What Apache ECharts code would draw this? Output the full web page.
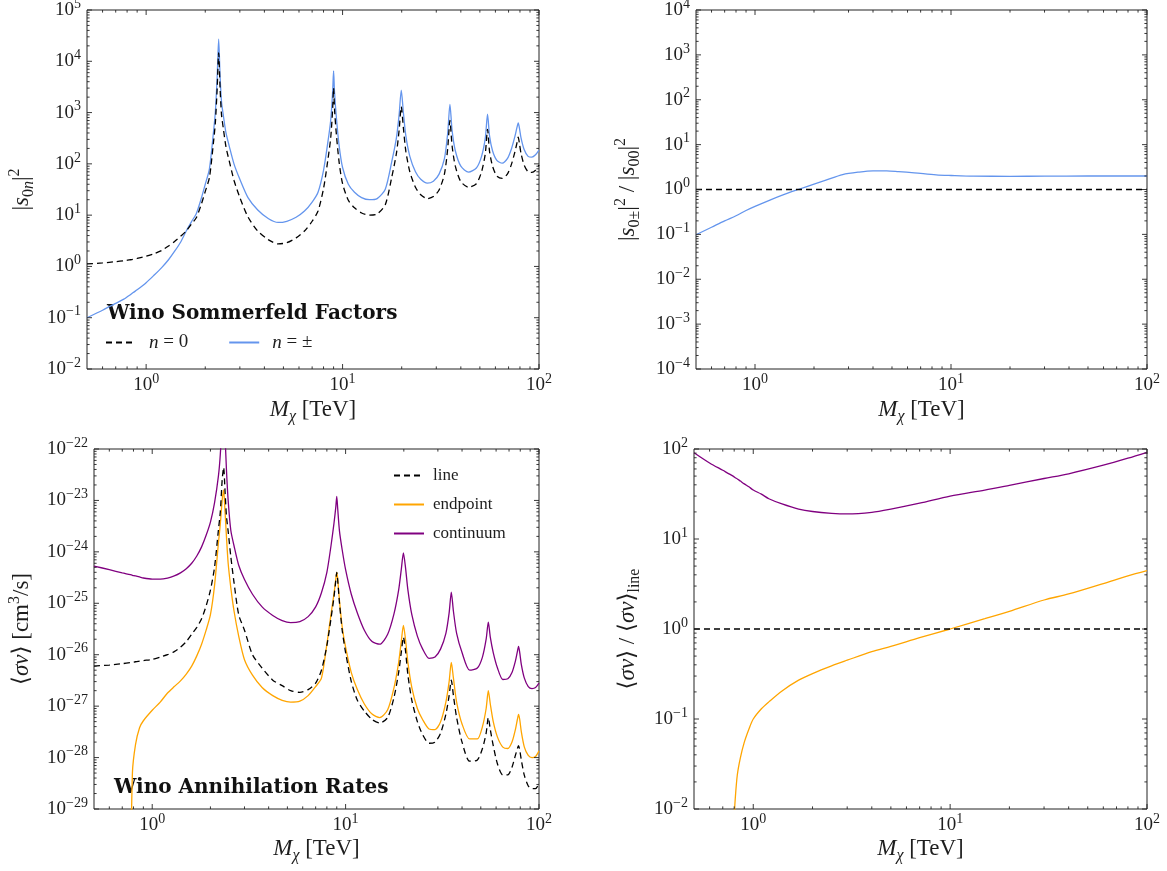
<!DOCTYPE html>
<html><head><meta charset="utf-8">
<script src="https://cdn.jsdelivr.net/npm/echarts@6/dist/echarts.min.js"></script>
<style>html,body{margin:0;padding:0;background:#fff}#c{width:1167px;height:871px}</style>
</head><body><div id="c"></div>
<script>
// ---------------- DATA ----------------
// Dark-matter mass grid (TeV) shared by the Sommerfeld factors and annihilation rates panels
const mass = [0.5,0.6,0.7,0.77,0.79,0.82,0.86,0.9,
  1.0,1.1,1.2,1.3,1.4,1.5,1.6,1.7,1.8,1.9,2.0,
  2.1,2.2,2.25,2.3,2.34,2.38,2.42,2.47,2.55,2.65,2.8,
  3.0,3.3,3.7,4.2,4.7,5.2,5.8,6.4,7.0,7.5,
  8.0,8.4,8.7,8.9,9.0,9.1,9.3,9.6,10,
  10.7,11.5,12.5,13.7,15,16.5,17.8,18.8,19.4,19.9,
  20.4,21,22,23.5,25,27,29,31,33,34.3,
  35.2,36.1,37.5,40,43.8,48,51,53.3,54.7,56,
  58,61,65,69,72.5,75.5,77.3,78.4,79.5,81,
  84,88,92,96,100];

// |s_00|^2  (n = 0)
const sfNeutral = [1.12,1.17,1.24,1.29,1.31,1.34,1.38,1.43,
  1.58,1.78,2.05,2.5,3.1,3.9,4.9,6.7,8.9,15.4,29,
  54,255,620,3000,14500,2900,900,500,214,113,48,
  22,9.2,4.9,3.3,2.75,2.9,3.6,4.9,7.6,12,
  33,113,318,1150,3000,1160,375,109,41,
  19.5,13.9,11,10,10.5,16,55,160,450,1300,
  500,175,70,35,25,21,23,31,63,200,
  700,225,90,45,35,41,70,160,470,175,
  90,58,52,63,100,175,260,330,250,160,
  95,70,68,75,95];

// |s_0±|^2  (n = ±)
const sfCharged = [0.10,0.14,0.19,0.23,0.245,0.27,0.31,0.35,
  0.48,0.68,0.95,1.35,2.0,3.0,4.9,7.4,10.7,20,40,
  80,400,1000,5000,27000,5000,1600,900,400,220,100,
  50,22,12.6,8.5,7.2,7.6,9.1,12,18,28,
  75,250,700,2500,6500,2500,800,230,85,
  40,28,22,20,21,32,110,320,900,2750,
  1000,350,140,70,50,42,46,63,126,400,
  1450,450,180,90,69,83,140,320,930,350,
  180,117,103,126,200,350,520,630,500,320,
  190,140,135,150,185];

// <sigma v> line  [cm^3/s]
const rateLine = [6.0e-27,6.3e-27,6.7e-27,7.0e-27,7.1e-27,7.3e-27,7.5e-27,7.7e-27,
  8.1e-27,9e-27,1.0e-26,1.15e-26,1.4e-26,1.8e-26,2.5e-26,3.4e-26,5e-26,8.9e-26,1.8e-25,
  5e-25,2.7e-24,6e-24,2.5e-23,4.4e-23,1.5e-23,5e-24,2.5e-24,8e-25,2.5e-25,6e-26,
  3e-26,1e-26,5.5e-27,3.2e-27,2.5e-27,2.0e-27,1.85e-27,2.1e-27,2.8e-27,5e-27,
  1.5e-26,5e-26,1.3e-25,2.8e-25,4e-25,2.8e-25,1.0e-25,3e-26,1.1e-26,
  3e-27,1.3e-27,8e-28,5.5e-28,4.7e-28,6e-28,1.5e-27,4.5e-27,1.1e-26,2.2e-26,
  1.2e-26,4e-27,1.3e-27,5e-28,2.8e-28,1.9e-28,2e-28,3e-28,7e-28,1.6e-27,
  3.2e-27,1.6e-27,6e-28,2e-28,8.5e-29,9e-29,1.5e-28,3e-28,6e-28,3.5e-28,
  1.7e-28,7.5e-29,4.6e-29,4.6e-29,6.5e-29,1.1e-28,1.5e-28,1.7e-28,1.4e-28,9e-29,
  4.5e-29,2.8e-29,2.5e-29,2.5e-29,3.1e-29];

// <sigma v> endpoint
const rateEndpoint = [null,null,null,1e-31,5e-29,1.8e-28,3.8e-28,5.2e-28,
  8.3e-28,1.2e-27,1.8e-27,2.4e-27,3.1e-27,4.2e-27,6e-27,9.5e-27,1.6e-26,3e-26,6e-26,
  2.2e-25,1.5e-24,3.5e-24,1e-23,1.6e-23,6e-24,2e-24,6e-25,2e-25,7e-26,2.3e-26,
  8e-27,4e-27,2.3e-27,1.6e-27,1.3e-27,1.2e-27,1.25e-27,1.6e-27,2.4e-27,3.5e-27,
  1.6e-26,6e-26,1.5e-25,3e-25,4e-25,3e-25,1.1e-25,3.5e-26,1.4e-26,
  4.5e-27,2.1e-27,1.1e-27,7e-28,6e-28,8.5e-28,2.3e-27,7e-27,1.8e-26,3.7e-26,
  2e-26,7e-27,2.3e-27,9e-28,5.5e-28,3.6e-28,3.5e-28,5e-28,1.2e-27,3e-27,
  7.1e-27,3.5e-27,1.2e-27,4.5e-28,2.3e-28,2.3e-28,4e-28,9e-28,2e-27,1.1e-27,
  5e-28,2.5e-28,1.6e-28,1.5e-28,2e-28,3.5e-28,5.5e-28,6.9e-28,5.5e-28,3.2e-28,
  1.6e-28,1.1e-28,1.0e-28,1.05e-28,1.35e-28];

// <sigma v> continuum
const rateContinuum = [5.3e-25,4.5e-25,3.9e-25,3.6e-25,3.5e-25,3.4e-25,3.25e-25,3.1e-25,
  2.95e-25,2.95e-25,3.1e-25,3.4e-25,3.9e-25,4.7e-25,6e-25,8.3e-25,1.25e-24,2.1e-24,3.8e-24,
  9e-24,3e-23,8e-23,4e-22,3e-21,2e-22,4e-23,1e-23,2.6e-24,1.3e-24,5.5e-25,
  2.9e-25,1.5e-25,8.5e-26,5.8e-26,4.6e-26,4.2e-26,4.4e-26,5.5e-26,8.5e-26,1.6e-25,
  4e-25,1.3e-24,3.5e-24,7.5e-24,1.2e-23,7e-24,2.5e-24,1.1e-24,4.5e-25,
  1.5e-25,6.5e-26,3e-26,1.8e-26,1.6e-26,2.5e-26,6.3e-26,1.8e-25,4.5e-25,9.5e-25,
  5e-25,1.8e-25,6e-26,2.3e-26,1.3e-26,8.5e-27,9e-27,1.3e-26,2.6e-26,6.5e-26,
  1.65e-25,7e-26,2.6e-26,1.1e-26,5e-27,5.5e-27,9e-27,2e-26,4.3e-26,2.2e-26,
  1.1e-26,5.5e-27,3.3e-27,3.4e-27,4.5e-27,7.5e-27,1.15e-26,1.45e-26,1.1e-26,6.5e-27,
  3.5e-27,2.4e-27,2.2e-27,2.3e-27,2.8e-27];

// |s_0±|^2 / |s_00|^2
const massSFRatio = [0.5,0.6,0.7,0.8,0.9,1.0,1.2,1.4,1.66,2.0,2.3,2.8,3.4,4.0,4.7,5.4,6.5,8.4,10,13,20,30,50,70,100];
const sfRatio = [0.098,0.144,0.2,0.26,0.34,0.42,0.59,0.77,1.0,1.32,1.62,2.15,2.45,2.6,2.6,2.5,2.35,2.12,2.05,1.98,1.97,1.98,2.0,2.0,2.0];

// <sigma v> / <sigma v>_line
const massRateRatio = [0.5,0.6,0.7,0.79,0.8,0.81,0.83,0.86,0.9,0.95,1.0,1.1,1.2,1.4,1.7,2.0,2.5,3.0,4.0,5.0,7.0,10,15,20,30,40,60,80,100];
const continuumRatio = [91,70,58,50,49,48,46.5,44,41,38,35,31.5,28,24.5,21.5,20.2,19.3,19,19.8,21.5,25,30,35,39.5,47,53,66,79,92];
const endpointRatio = [null,null,null,0.004,0.008,0.013,0.024,0.037,0.055,0.077,0.1,0.13,0.155,0.205,0.27,0.32,0.39,0.45,0.56,0.64,0.8,1.0,1.3,1.57,2.1,2.45,3.2,3.9,4.45];

// unity reference line
const unityMass = [0.5, 100];
const unityValue = [1, 1];

// axis ranges (tick labels are powers of ten)
const xRange = [0.5, 100];
const yRanges = [[1e-2, 1e5], [1e-4, 1e4], [1e-29, 1e-22], [1e-2, 1e2]];

// ---------------- STYLE ----------------
const FONT = 'Liberation Serif, DejaVu Serif, serif';
const TXT = '#1e1e1e';
const C_BLUE = '#6495ED', C_ORANGE = '#FFA500', C_PURPLE = '#800080', C_BLACK = '#000000';
const grids = [
  {left: 87, top: 10, width: 452, height: 359},
  {left: 696, top: 10, width: 451, height: 359},
  {left: 94, top: 449, width: 445, height: 360},
  {left: 694, top: 449, width: 453, height: 360}
];
// panels whose y tick labels are drawn by the tick series (values below 1e-20 are rounded to 0 by the log scale's label path)
const customYLabels = [false, false, true, false];

const powRich = {
  b: {fontFamily: FONT, fontSize: 19, lineHeight: 26, color: TXT},
  s: {fontFamily: FONT, fontSize: 14, lineHeight: 14, verticalAlign: 'top', color: TXT}
};
function powText(v) {
  const e = Math.log10(v), r = Math.round(e);
  if (!isFinite(e) || Math.abs(e - r) > 1e-6) return '';
  return '{b|10}{s|' + (r < 0 ? '\u2212' + (-r) : String(r)) + '}';
}
const nameRich = {
  r: {fontFamily: FONT, fontSize: 23, lineHeight: 30, color: TXT},
  i: {fontFamily: FONT, fontStyle: 'italic', fontSize: 23, lineHeight: 30, color: TXT},
  sub: {fontFamily: FONT, fontSize: 16, lineHeight: 15, verticalAlign: 'bottom', color: TXT},
  subi: {fontFamily: FONT, fontStyle: 'italic', fontSize: 16, lineHeight: 15, verticalAlign: 'bottom', color: TXT},
  sup: {fontFamily: FONT, fontSize: 16, lineHeight: 15, verticalAlign: 'top', color: TXT}
};
const xName = '{i|M}{subi|\u03c7}{r| [TeV]}';
const yNames = [
  '{r||}{i|s}{sub|0}{subi|n}{r||}{sup|2}',
  '{r||}{i|s}{sub|0\u00b1}{r||}{sup|2}{r| / |}{i|s}{sub|00}{r||}{sup|2}',
  '{r|\u27e8}{i|\u03c3v}{r|\u27e9 [cm}{sup|3}{r|/s]}',
  '{r|\u27e8}{i|\u03c3v}{r|\u27e9 / \u27e8}{i|\u03c3v}{r|\u27e9}{sub|line}'
];
const yNameGaps = [50, 53, 57, 51];
const xNameGaps = [26, 26, 25, 25];

function xAxisCfg(gi) {
  return {type: 'log', gridIndex: gi, min: xRange[0], max: xRange[1],
    axisLine: {show: false}, axisTick: {show: false}, splitLine: {show: false},
    axisLabel: {formatter: powText, margin: 3, rich: powRich, hideOverlap: false},
    name: xName, nameLocation: 'middle', nameGap: xNameGaps[gi], nameMoveOverlap: false,
    nameTextStyle: {rich: nameRich}};
}
function yAxisCfg(gi) {
  return {type: 'log', gridIndex: gi, min: yRanges[gi][0], max: yRanges[gi][1],
    axisLine: {show: false}, axisTick: {show: false}, splitLine: {show: false},
    axisLabel: {show: !customYLabels[gi], formatter: powText, margin: 6, rich: powRich, hideOverlap: false},
    name: yNames[gi], nameLocation: 'middle', nameGap: yNameGaps[gi], nameMoveOverlap: false,
    nameTextStyle: {rich: nameRich}};
}

// tick marks (inward, all four sides) drawn through the axes' scales
function tickValues(lo, hi) {
  const major = [], minor = [];
  const e0 = Math.floor(Math.log10(lo)), e1 = Math.ceil(Math.log10(hi));
  for (let e = e0; e <= e1; e++) {
    const d = Math.pow(10, e);
    if (d >= lo * 0.9999 && d <= hi * 1.0001) major.push(d);
    for (let m = 2; m <= 9; m++) { const v = m * d; if (v > lo * 1.0001 && v < hi * 0.9999) minor.push(v); }
  }
  return {major, minor};
}
function tickSeries(gi) {
  const xt = tickValues(xRange[0], xRange[1]);
  const yr = yRanges[gi];
  const yt = tickValues(yr[0], yr[1]);
  const data = [];
  xt.major.forEach(v => data.push([v, yr[0], 0, 1]));
  xt.minor.forEach(v => data.push([v, yr[0], 0, 0]));
  yt.major.forEach(v => data.push([xRange[0], v, 1, 1]));
  yt.minor.forEach(v => data.push([xRange[0], v, 1, 0]));
  const withLabels = customYLabels[gi];
  return {type: 'custom', xAxisIndex: gi, yAxisIndex: gi, silent: true, clip: false, z: 6,
    encode: {x: 0, y: 1}, data: data,
    renderItem: function (params, api) {
      const cs = params.coordSys;
      const p = api.coord([api.value(0), api.value(1)]);
      const major = api.value(3) === 1;
      const len = major ? 5 : 2.6;
      const st = {stroke: '#222', lineWidth: 0.9};
      if (api.value(2) === 0) {
        const b = cs.y + cs.height;
        return {type: 'group', children: [
          {type: 'line', shape: {x1: p[0], y1: b, x2: p[0], y2: b - len}, style: st},
          {type: 'line', shape: {x1: p[0], y1: cs.y, x2: p[0], y2: cs.y + len}, style: st}]};
      }
      const r = cs.x + cs.width;
      const children = [
        {type: 'line', shape: {x1: cs.x, y1: p[1], x2: cs.x + len, y2: p[1]}, style: st},
        {type: 'line', shape: {x1: r, y1: p[1], x2: r - len, y2: p[1]}, style: st}];
      if (withLabels && major) {
        children.push({type: 'text', x: cs.x - 6, y: p[1], style: {
          text: powText(api.value(1)), rich: powRich, align: 'right', verticalAlign: 'middle',
          fontFamily: FONT, fontSize: 19, fill: TXT}});
      }
      return {type: 'group', children: children};
    }};
}

function pairs(xs, ys) { return xs.map((x, i) => [x, ys[i]]); }
function lineSeries(name, gi, xs, ys, color, dashed, z, smooth) {
  return {type: 'line', name: name, xAxisIndex: gi, yAxisIndex: gi, data: pairs(xs, ys),
    showSymbol: false, symbol: 'none', connectNulls: false, clip: true, z: z,
    smooth: smooth || false,
    lineStyle: {color: color, width: 1.3, type: dashed ? [6, 4] : 'solid'},
    itemStyle: {color: color}, emphasis: {disabled: true}};
}

const legendRich = {
  i: {fontFamily: FONT, fontStyle: 'italic', fontSize: 19, color: TXT},
  r: {fontFamily: FONT, fontSize: 19, color: TXT}
};

const option = {
  animation: false,
  backgroundColor: '#ffffff',
  grid: grids.map(g => Object.assign({show: true, borderColor: '#222', borderWidth: 1, backgroundColor: 'transparent', outerBoundsMode: 'none'}, g)),
  xAxis: [0, 1, 2, 3].map(xAxisCfg),
  yAxis: [0, 1, 2, 3].map(yAxisCfg),
  legend: [
    {data: ['n = 0', 'n = \u00b1'], left: 105, top: 333, orient: 'horizontal', itemWidth: 30, itemHeight: 14, itemGap: 40, padding: 0,
      selectedMode: false, itemStyle: {opacity: 0},
      formatter: function (n) { return '{i|n}{r|' + n.slice(1) + '}'; },
      textStyle: {rich: legendRich, padding: [0, 0, 0, 8]}},
    {data: ['line', 'endpoint', 'continuum'], left: 393, top: 467, orient: 'vertical', itemWidth: 30, itemHeight: 14, itemGap: 12, padding: 0,
      selectedMode: false, itemStyle: {opacity: 0},
      textStyle: {fontFamily: FONT, fontSize: 17, lineHeight: 17, color: TXT, padding: [0, 0, 0, 4]}}
  ],
  graphic: [
    {type: 'text', left: 107, top: 304, silent: true, style: {text: 'Wino Sommerfeld Factors', font: 'bold 20px DejaVu Serif', fill: '#111'}},
    {type: 'text', left: 114, top: 778, silent: true, style: {text: 'Wino Annihilation Rates', font: 'bold 20px DejaVu Serif', fill: '#111'}}
  ],
  series: [
    lineSeries('n = \u00b1', 0, mass, sfCharged, C_BLUE, false, 2, 0.25),
    lineSeries('n = 0', 0, mass, sfNeutral, C_BLACK, true, 3, 0.25),
    lineSeries('ratio charged/neutral', 1, massSFRatio, sfRatio, C_BLUE, false, 2, 0.3),
    lineSeries('unity (top)', 1, unityMass, unityValue, C_BLACK, true, 3),
    lineSeries('continuum', 2, mass, rateContinuum, C_PURPLE, false, 2, 0.25),
    lineSeries('endpoint', 2, mass, rateEndpoint, C_ORANGE, false, 2, 0.25),
    lineSeries('line', 2, mass, rateLine, C_BLACK, true, 3, 0.25),
    lineSeries('continuum/line', 3, massRateRatio, continuumRatio, C_PURPLE, false, 2, 0.3),
    lineSeries('endpoint/line', 3, massRateRatio, endpointRatio, C_ORANGE, false, 2, 0.3),
    lineSeries('unity (bottom)', 3, unityMass, unityValue, C_BLACK, true, 3),
    tickSeries(0), tickSeries(1), tickSeries(2), tickSeries(3)
  ]
};
const chart = echarts.init(document.getElementById('c'), null, {renderer: 'canvas'});
chart.setOption(option);
</script></body></html>
